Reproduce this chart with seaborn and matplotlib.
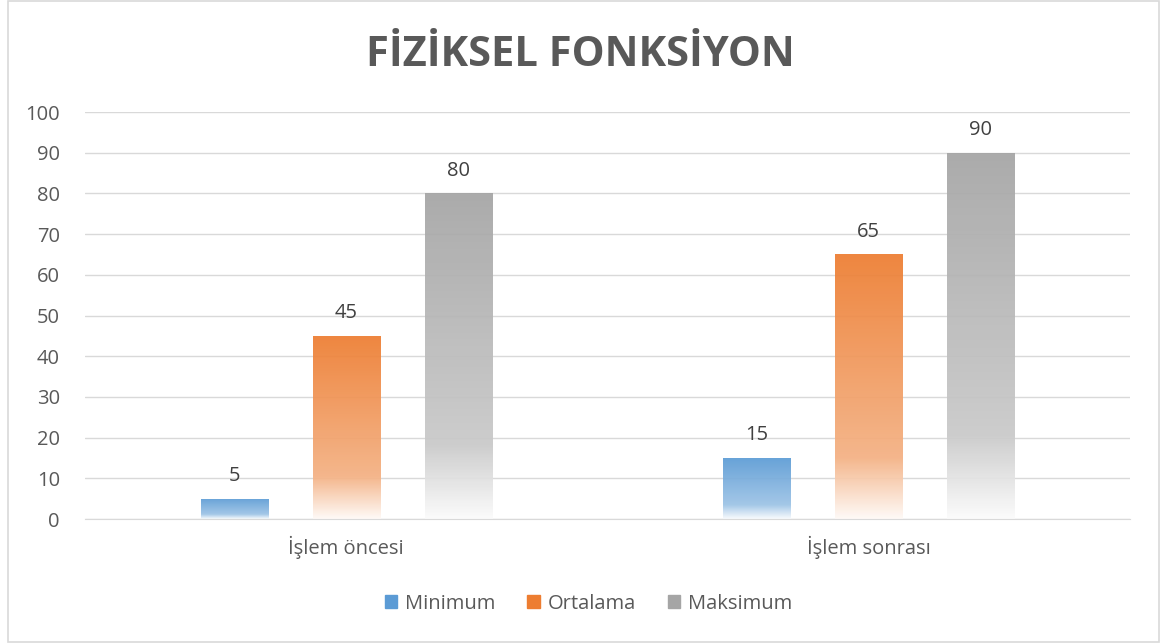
import numpy as np
import pandas as pd
import seaborn as sns
import matplotlib.pyplot as plt
from matplotlib.colors import to_rgb
from matplotlib.patches import Rectangle

# %% Data
categories = ["İşlem öncesi", "İşlem sonrası"]
series = ["Minimum", "Ortalama", "Maksimum"]
minimum = [5, 15]
ortalama = [45, 65]
maksimum = [80, 90]
colors = ["#5B9BD5", "#ED7D31", "#A5A5A5"]

df = pd.DataFrame({
    "kategori": categories * 3,
    "seri": [s for s in series for _ in categories],
    "deger": minimum + ortalama + maksimum,
})

# %% Plot
sns.set_style("white")
plt.rcParams["font.family"] = ["Open Sans", "DejaVu Sans"]
text_col = "#595959"

fig = plt.figure(figsize=(11.61, 6.43), dpi=100)
ax = fig.add_axes([0.0732, 0.1928, 0.9001, 0.633])

sns.barplot(data=df, x="kategori", y="deger", hue="seri", hue_order=series,
            palette=colors, width=0.643, gap=0.4, ax=ax, legend=False,
            errorbar=None, zorder=2)

ax.set_xlim(-0.5, 1.5)
ax.set_ylim(0, 100)
ax.set_yticks(range(0, 101, 10))
ax.yaxis.grid(True, color="#D9D9D9", linewidth=1)
ax.set_axisbelow(True)
for side in ["top", "right", "left"]:
    ax.spines[side].set_visible(False)
ax.spines["bottom"].set_color("#D9D9D9")
ax.tick_params(length=0, labelsize=14.5, labelcolor=text_col)
ax.tick_params(axis="y", pad=18)
ax.tick_params(axis="x", pad=12)
ax.set_xlabel("")
ax.set_ylabel("")


def gradient(color, n=256):
    c = np.array(to_rgb(color))
    w = np.ones(3)
    t = np.linspace(0, 1, n)[:, None]
    mid = 0.6 * c + 0.4 * w
    low = 0.04 * c + 0.96 * w
    top_part = c + (mid - c) * np.clip(t / 0.77, 0, 1)
    bot_part = mid + (low - mid) * np.clip((t - 0.77) / 0.23, 0, 1)
    rgb = np.where(t <= 0.77, top_part, bot_part)
    return rgb[:, None, :]


for bars, col in zip(ax.containers, colors):
    img = gradient(col)
    for p in bars:
        x0, y0, w, h = p.get_x(), p.get_y(), p.get_width(), p.get_height()
        im = ax.imshow(img, extent=[x0, x0 + w, y0, y0 + h], origin="upper",
                       aspect="auto", zorder=2, alpha=0.93)
        im.set_clip_path(p)
        p.set_facecolor("none")
        p.set_edgecolor("none")
    ax.bar_label(bars, padding=9, fontsize=14.5, color="#404040")

ax.set_xlim(-0.5, 1.5)
ax.set_ylim(0, 100)

fig.text(0.5, 0.914, "FİZİKSEL FONKSİYON", ha="center", va="center",
         fontsize=30, fontweight="bold", color=text_col)

handles = [Rectangle((0, 0), 1, 1, color=c) for c in colors]
fig.legend(handles, series, loc="center", bbox_to_anchor=(0.507, 0.061),
           ncol=3, frameon=False, fontsize=14.5, labelcolor=text_col,
           handlelength=0.6, handleheight=0.6, handletextpad=0.4,
           columnspacing=1.6)

fig.patches.append(Rectangle((0.0065, 0.0016), 0.992, 0.997, transform=fig.transFigure,
                             fill=False, edgecolor="#D9D9D9", linewidth=1.2))

fig.savefig("out.png", dpi=100, facecolor="white")
